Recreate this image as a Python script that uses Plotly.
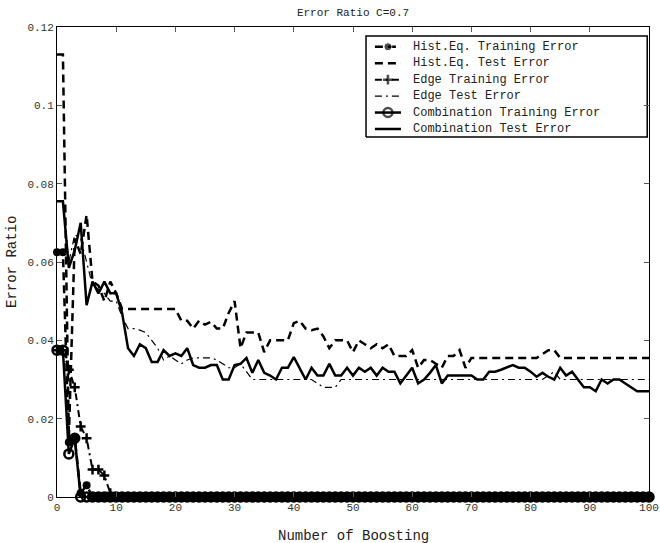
import plotly.graph_objects as go

boost = list(range(0, 101))

he_train = [0.0625, 0.0625, 0.014, 0.015, 0.001, 0.003] + [0.0] * 95
edge_train = [0.0375, 0.0375, 0.0325, 0.028, 0.018, 0.015, 0.007, 0.007, 0.0055, 0.001] + [0.0] * 91
comb_train = [0.0375, 0.0375, 0.011, 0.015, 0.0] + [0.0] * 96

he_test = [0.113, 0.113, 0.015, 0.066, 0.062, 0.072, 0.055, 0.054, 0.050, 0.055,
           0.052, 0.048, 0.048, 0.048, 0.048, 0.048, 0.048, 0.048, 0.048, 0.048,
           0.048, 0.045, 0.045, 0.043, 0.045, 0.044, 0.0447, 0.043, 0.043, 0.047,
           0.050, 0.038, 0.042, 0.042, 0.042, 0.037, 0.040, 0.040, 0.040, 0.040,
           0.0444, 0.045, 0.043, 0.0426, 0.043, 0.041, 0.038, 0.040, 0.040, 0.040,
           0.037, 0.040, 0.039, 0.038, 0.039, 0.038, 0.039, 0.036, 0.036, 0.036,
           0.0375, 0.033, 0.035, 0.035, 0.034, 0.033, 0.036, 0.036, 0.0375, 0.033,
           0.0355, 0.0355, 0.0355, 0.0355, 0.0355, 0.0355, 0.0355, 0.0355, 0.0355, 0.0355,
           0.0355, 0.0355, 0.0365, 0.0375, 0.0375, 0.0355, 0.0355, 0.0355, 0.0355, 0.0355,
           0.0355, 0.0355, 0.0355, 0.0355, 0.0355, 0.0355, 0.0355, 0.0355, 0.0355, 0.0355,
           0.0355]

edge_test = [0.0755, 0.0755, 0.060, 0.067, 0.066, 0.060, 0.054, 0.053, 0.052, 0.050,
             0.050, 0.046, 0.043, 0.043, 0.0426, 0.042, 0.040, 0.038, 0.035, 0.036,
             0.035, 0.034, 0.035, 0.0355, 0.0355, 0.0355, 0.0355, 0.035, 0.034, 0.033,
             0.033, 0.034, 0.032, 0.030, 0.030, 0.030, 0.030, 0.030, 0.030, 0.030,
             0.030, 0.030, 0.030, 0.030, 0.029, 0.028, 0.028, 0.028, 0.030, 0.030,
             0.030, 0.030, 0.030, 0.030, 0.030, 0.030, 0.030, 0.030, 0.030, 0.030,
             0.030, 0.030, 0.030, 0.030, 0.030, 0.030, 0.030, 0.030, 0.030, 0.030,
             0.030, 0.030, 0.030, 0.030, 0.030, 0.030, 0.030, 0.030, 0.030, 0.030,
             0.030, 0.030, 0.030, 0.031, 0.032, 0.030, 0.030, 0.030, 0.030, 0.030,
             0.030, 0.030, 0.030, 0.030, 0.030, 0.030, 0.030, 0.030, 0.030, 0.030,
             0.030]

comb_test = [0.0755, 0.0755, 0.0585, 0.063, 0.070, 0.049, 0.055, 0.052, 0.055, 0.052,
             0.052, 0.047, 0.038, 0.036, 0.039, 0.038, 0.0345, 0.0345, 0.0375, 0.036,
             0.0367, 0.036, 0.038, 0.0337, 0.033, 0.033, 0.0337, 0.0337, 0.030, 0.030,
             0.0337, 0.034, 0.0355, 0.0317, 0.035, 0.0317, 0.031, 0.030, 0.033, 0.033,
             0.0357, 0.033, 0.030, 0.033, 0.031, 0.031, 0.034, 0.031, 0.031, 0.033,
             0.031, 0.033, 0.032, 0.033, 0.031, 0.033, 0.032, 0.032, 0.029, 0.031,
             0.033, 0.029, 0.030, 0.0317, 0.0337, 0.029, 0.031, 0.031, 0.031, 0.031,
             0.031, 0.030, 0.030, 0.032, 0.032, 0.0325, 0.033, 0.0337, 0.033, 0.033,
             0.032, 0.0307, 0.0317, 0.0307, 0.030, 0.033, 0.031, 0.032, 0.030, 0.028,
             0.028, 0.027, 0.030, 0.029, 0.030, 0.030, 0.029, 0.028, 0.027, 0.027,
             0.027]

series_names = ["Hist.Eq. Training Error", "Hist.Eq. Test Error", "Edge Training Error",
                "Edge Test Error", "Combination Training Error", "Combination Test Error"]

x_ticks = [0, 10, 20, 30, 40, 50, 60, 70, 80, 90, 100]
y_ticks = [0, 0.02, 0.04, 0.06, 0.08, 0.1, 0.12]
y_tick_labels = ["0", "0.02", "0.04", "0.06", "0.08", "0.1", "0.12"]

FONT = "Liberation Mono, DejaVu Sans Mono, monospace"
K = "black"
DASH = "8px,5px"
DASHDOT = "7px,4px,2px,4px"

styles = [
    dict(mode="lines+markers", line=dict(color=K, width=2.5, dash=DASH),
         marker=dict(symbol="circle", size=8, color=K)),
    dict(mode="lines", line=dict(color=K, width=2.5, dash=DASH)),
    dict(mode="lines+markers", line=dict(color=K, width=2, dash=DASHDOT),
         marker=dict(symbol="cross-thin", size=7, color=K, line=dict(color=K, width=2.5))),
    dict(mode="lines", line=dict(color=K, width=1.2, dash=DASHDOT)),
    dict(mode="lines+markers", line=dict(color=K, width=2.5),
         marker=dict(symbol="circle-open", size=9, color=K, line=dict(color=K, width=2.5))),
    dict(mode="lines", line=dict(color=K, width=2.5)),
]
series_values = [he_train, he_test, edge_train, edge_test, comb_train, comb_test]

fig = go.Figure()
for name, vals, st in zip(series_names, series_values, styles):
    fig.add_trace(go.Scatter(x=boost, y=vals, name=name, showlegend=False,
                             cliponaxis=("marker" not in st), **st))

# ---- custom legend drawn on an overlaid helper axis (paper-like 0..1 coordinates) ----
box_x0, box_x1, box_y0, box_y1 = 0.522, 0.997, 0.766, 0.981
row_top, row_step = 0.958, 0.0350
samp_x0, samp_x1, text_x = 0.537, 0.581, 0.598

fig.add_trace(go.Scatter(x=[box_x0, box_x1, box_x1, box_x0, box_x0],
                         y=[box_y0, box_y0, box_y1, box_y1, box_y0],
                         mode="lines", fill="toself", fillcolor="white",
                         line=dict(color=K, width=1.5), xaxis="x2", yaxis="y2",
                         showlegend=False, hoverinfo="skip"))
for i, (name, st) in enumerate(zip(series_names, styles)):
    ry = row_top - i * row_step
    tr = dict(st)
    if "marker" in tr:
        mk = dict(tr["marker"])
        mk["size"] = [0, mk["size"], 0]
        tr["marker"] = mk
    fig.add_trace(go.Scatter(x=[samp_x0, (samp_x0 + samp_x1) / 2, samp_x1], y=[ry, ry, ry],
                             xaxis="x2", yaxis="y2", showlegend=False, hoverinfo="skip", **tr))
    fig.add_annotation(x=text_x, y=ry, xref="paper", yref="paper", text=name, showarrow=False,
                       xanchor="left", yanchor="middle",
                       font=dict(family=FONT, size=12, color="#222"))

# axis titles as annotations for exact placement
fig.add_annotation(x=0.5, y=-0.083, xref="paper", yref="paper", text="Number of Boosting",
                   showarrow=False, xanchor="center", yanchor="middle",
                   font=dict(family=FONT, size=14, color="#222"))
fig.add_annotation(x=-0.076, y=0.5, xref="paper", yref="paper", text="Error Ratio", textangle=-90,
                   showarrow=False, xanchor="center", yanchor="middle",
                   font=dict(family=FONT, size=14, color="#222"))

fig.update_layout(
    width=660, height=543,
    margin=dict(l=57, r=11, t=27, b=46),
    paper_bgcolor="white", plot_bgcolor="white",
    font=dict(family=FONT, size=12, color="#222"),
    title=dict(text="Error Ratio C=0.7", x=0.5, xref="paper", xanchor="center",
               y=0.978, yref="container", yanchor="middle",
               font=dict(family=FONT, size=11, color="#222")),
    showlegend=False,
    xaxis=dict(range=[0, 100], tickvals=x_ticks, ticks="inside", ticklen=5, tickcolor="#555",
               showline=True, linecolor=K, linewidth=1, mirror="ticks", showgrid=False, zeroline=False,
               automargin=False,
               tickfont=dict(family=FONT, size=11, color="#333")),
    yaxis=dict(range=[0, 0.12], tickvals=y_ticks, ticktext=y_tick_labels, ticks="inside", ticklen=5,
               tickcolor="#555", showline=True, linecolor=K, linewidth=1, mirror="ticks",
               showgrid=False, zeroline=False, automargin=False,
               tickfont=dict(family=FONT, size=11, color="#333")),
    xaxis2=dict(overlaying="x", range=[0, 1], visible=False, fixedrange=True),
    yaxis2=dict(overlaying="y", range=[0, 1], visible=False, fixedrange=True),
)

fig.write_html("out.html", config={"displayModeBar": False},
               post_script="document.body.style.margin='0';")
